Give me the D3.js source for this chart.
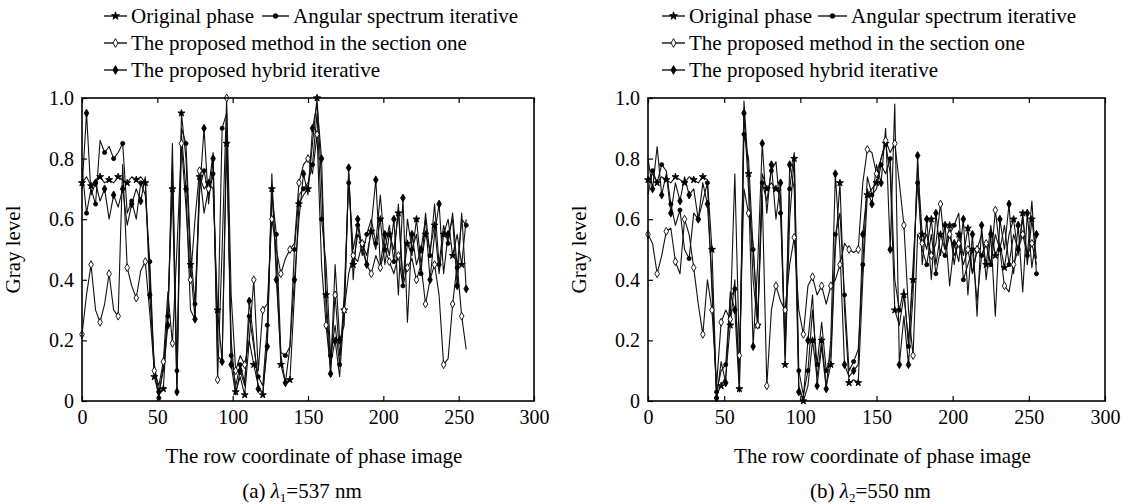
<!DOCTYPE html>
<html>
<head>
<meta charset="utf-8">
<script src="https://cdn.jsdelivr.net/npm/d3@7"></script>
<style>
  body { margin: 0; background: #fff; }
  svg { font-family: "Liberation Serif", "Times New Roman", serif; }
</style>
</head>
<body>
<svg id="chart" width="1130" height="504"></svg>
<script>
// row coordinate of the phase image (sampled every 3 rows)
const rows = [
  0, 3, 6, 9, 12, 15, 18, 21, 24, 27,
  30, 33, 36, 39, 42, 45, 48, 51, 54, 57,
  60, 63, 66, 69, 72, 75, 78, 81, 84, 87,
  90, 93, 96, 99, 102, 105, 108, 111, 114, 117,
  120, 123, 126, 129, 132, 135, 138, 141, 144, 147,
  150, 153, 156, 159, 162, 165, 168, 171, 174, 177,
  180, 183, 186, 189, 192, 195, 198, 201, 204, 207,
  210, 213, 216, 219, 222, 225, 228, 231, 234, 237,
  240, 243, 246, 249, 252, 255
];

// (a) lambda1 = 537 nm
const origA = [
  0.72, 0.74, 0.71, 0.73, 0.74, 0.72, 0.73, 0.72, 0.74, 0.73,
  0.72, 0.74, 0.73, 0.74, 0.72, 0.42, 0.08, 0.02, 0.04, 0.30,
  0.70, 0.03, 0.95, 0.80, 0.45, 0.27, 0.74, 0.70, 0.72, 0.70,
  0.30, 0.13, 0.85, 0.20, 0.03, 0.08, 0.02, 0.20, 0.12, 0.05,
  0.02, 0.20, 0.70, 0.45, 0.12, 0.06, 0.07, 0.35, 0.65, 0.68,
  0.70, 0.85, 1.00, 0.72, 0.35, 0.12, 0.20, 0.08, 0.30, 0.75,
  0.45, 0.55, 0.52, 0.48, 0.56, 0.50, 0.60, 0.45, 0.55, 0.50,
  0.62, 0.40, 0.52, 0.48, 0.60, 0.45, 0.55, 0.50, 0.58, 0.42,
  0.55, 0.60, 0.48, 0.55, 0.45, 0.60
];
const angA = [
  0.77, 0.62, 0.70, 0.65, 0.86, 0.82, 0.84, 0.80, 0.82, 0.85,
  0.62, 0.66, 0.60, 0.72, 0.68, 0.46, 0.10, 0.01, 0.12, 0.28,
  0.78, 0.10, 0.90, 0.85, 0.50, 0.32, 0.70, 0.76, 0.68, 0.75,
  0.20, 0.90, 0.95, 0.15, 0.05, 0.12, 0.06, 0.28, 0.18, 0.08,
  0.05, 0.25, 0.69, 0.55, 0.16, 0.15, 0.18, 0.50, 0.68, 0.70,
  0.72, 0.78, 0.95, 0.60, 0.45, 0.15, 0.25, 0.12, 0.35, 0.72,
  0.50, 0.58, 0.48, 0.55, 0.60, 0.52, 0.68, 0.50, 0.58, 0.46,
  0.65, 0.38, 0.60, 0.50, 0.55, 0.42, 0.62, 0.48, 0.65, 0.45,
  0.58, 0.52, 0.62, 0.44, 0.60, 0.58
];
const secA = [
  0.22, 0.35, 0.45, 0.30, 0.26, 0.32, 0.42, 0.30, 0.28, 0.78,
  0.44, 0.38, 0.34, 0.43, 0.46, 0.29, 0.10, 0.05, 0.13, 0.36,
  0.19, 0.50, 0.85, 0.64, 0.40, 0.60, 0.76, 0.62, 0.70, 0.82,
  0.07, 0.50, 1.00, 0.35, 0.10, 0.15, 0.12, 0.20, 0.40, 0.10,
  0.30, 0.32, 0.60, 0.50, 0.42, 0.47, 0.50, 0.52, 0.72, 0.78,
  0.80, 0.75, 0.88, 0.45, 0.25, 0.10, 0.35, 0.15, 0.30, 0.42,
  0.48, 0.46, 0.52, 0.45, 0.42, 0.48, 0.44, 0.50, 0.46, 0.42,
  0.48, 0.38, 0.44, 0.47, 0.40, 0.45, 0.32, 0.40, 0.45, 0.35,
  0.12, 0.14, 0.32, 0.45, 0.28, 0.17
];
const hybA = [
  0.70, 0.95, 0.68, 0.72, 0.66, 0.70, 0.60, 0.68, 0.64, 0.70,
  0.58, 0.65, 0.70, 0.66, 0.74, 0.35, 0.12, 0.03, 0.10, 0.25,
  0.85, 0.03, 0.88, 0.70, 0.30, 0.27, 0.68, 0.90, 0.65, 0.80,
  0.15, 0.13, 0.90, 0.12, 0.02, 0.10, 0.05, 0.33, 0.20, 0.04,
  0.03, 0.18, 0.75, 0.40, 0.15, 0.06, 0.18, 0.40, 0.60, 0.75,
  0.68, 0.90, 0.98, 0.80, 0.30, 0.09, 0.45, 0.20, 0.25, 0.77,
  0.40, 0.60, 0.50, 0.45, 0.58, 0.73, 0.45, 0.55, 0.48, 0.60,
  0.35, 0.67, 0.26, 0.55, 0.45, 0.50, 0.60, 0.40, 0.55, 0.65,
  0.42, 0.55, 0.60, 0.38, 0.62, 0.37
];

// (b) lambda2 = 550 nm
const origB = [
  0.73, 0.75, 0.72, 0.74, 0.73, 0.72, 0.74, 0.73, 0.72, 0.74,
  0.73, 0.72, 0.74, 0.73, 0.50, 0.02, 0.05, 0.08, 0.25, 0.40,
  0.04, 0.99, 0.75, 0.40, 0.25, 0.75, 0.70, 0.72, 0.70, 0.68,
  0.12, 0.60, 0.80, 0.05, 0.00, 0.05, 0.20, 0.08, 0.20, 0.05,
  0.12, 0.50, 0.72, 0.30, 0.06, 0.07, 0.06, 0.40, 0.68, 0.70,
  0.72, 0.80, 0.85, 0.75, 0.30, 0.25, 0.35, 0.20, 0.40, 0.78,
  0.55, 0.50, 0.60, 0.45, 0.55, 0.50, 0.58, 0.45, 0.55, 0.48,
  0.57, 0.42, 0.50, 0.55, 0.45, 0.58, 0.48, 0.52, 0.44, 0.55,
  0.60, 0.48, 0.62, 0.45, 0.60, 0.47
];
const angB = [
  0.68, 0.76, 0.72, 0.78, 0.76, 0.65, 0.58, 0.63, 0.50, 0.47,
  0.62, 0.60, 0.66, 0.72, 0.36, 0.03, 0.10, 0.12, 0.34, 0.37,
  0.08, 0.88, 0.80, 0.50, 0.27, 0.72, 0.66, 0.76, 0.79, 0.62,
  0.19, 0.70, 0.82, 0.10, 0.02, 0.10, 0.30, 0.12, 0.26, 0.10,
  0.15, 0.55, 0.62, 0.35, 0.10, 0.13, 0.17, 0.45, 0.74, 0.68,
  0.70, 0.78, 0.75, 0.80, 0.40, 0.30, 0.37, 0.18, 0.45, 0.72,
  0.50, 0.45, 0.55, 0.42, 0.50, 0.48, 0.55, 0.58, 0.62, 0.40,
  0.45, 0.50, 0.33, 0.48, 0.52, 0.45, 0.55, 0.50, 0.58, 0.45,
  0.55, 0.50, 0.60, 0.48, 0.66, 0.42
];
const secB = [
  0.55, 0.52, 0.42, 0.48, 0.56, 0.57, 0.46, 0.42, 0.60, 0.55,
  0.44, 0.32, 0.22, 0.40, 0.30, 0.05, 0.26, 0.30, 0.27, 0.75,
  0.15, 0.70, 0.62, 0.52, 0.25, 0.68, 0.05, 0.30, 0.38, 0.33,
  0.30, 0.45, 0.54, 0.30, 0.22, 0.38, 0.41, 0.35, 0.38, 0.32,
  0.38, 0.40, 0.45, 0.52, 0.50, 0.49, 0.50, 0.72, 0.83, 0.82,
  0.75, 0.80, 0.86, 0.82, 0.85, 0.72, 0.58, 0.30, 0.15, 0.55,
  0.52, 0.55, 0.48, 0.52, 0.65, 0.50, 0.55, 0.48, 0.52, 0.45,
  0.50, 0.42, 0.50, 0.48, 0.52, 0.45, 0.63, 0.50, 0.38, 0.36,
  0.45, 0.50, 0.55, 0.48, 0.52, 0.45
];
const hybB = [
  0.80, 0.70, 0.84, 0.68, 0.75, 0.62, 0.72, 0.66, 0.74, 0.68,
  0.70, 0.60, 0.72, 0.65, 0.40, 0.01, 0.13, 0.06, 0.36, 0.30,
  0.03, 0.95, 0.70, 0.18, 0.45, 0.85, 0.62, 0.78, 0.60, 0.72,
  0.15, 0.78, 0.70, 0.03, 0.01, 0.20, 0.35, 0.05, 0.18, 0.04,
  0.20, 0.75, 0.50, 0.12, 0.08, 0.10, 0.12, 0.55, 0.70, 0.65,
  0.78, 0.72, 0.90, 0.50, 0.98, 0.12, 0.28, 0.12, 0.35, 0.81,
  0.45, 0.60, 0.40, 0.62, 0.48, 0.58, 0.38, 0.52, 0.46, 0.60,
  0.35, 0.55, 0.28, 0.58, 0.40, 0.55, 0.28, 0.60, 0.50, 0.65,
  0.42, 0.58, 0.36, 0.62, 0.44, 0.55
];

const seriesNames = [
  'Original phase',
  'Angular spectrum iterative',
  'The proposed method in the section one',
  'The proposed hybrid iterative'
];
const xTicks = [0, 50, 100, 150, 200, 250, 300];
const yTicks = [0, 0.2, 0.4, 0.6, 0.8, 1.0];
const yTickLabels = ['0', '0.2', '0.4', '0.6', '0.8', '1.0'];

const svg = d3.select('#chart');

// marker style for each series
const markers = [
  { type: d3.symbolStar, size: 15, fill: '#000' },
  { type: d3.symbolCircle, size: 13, fill: '#000' },
  { type: d3.symbolDiamond, size: 18, fill: '#fff' },
  { type: d3.symbolDiamond, size: 18, fill: '#000' }
];

function drawPanel(p) {
  const x = d3.scaleLinear().domain([0, 300]).range([p.left, p.right]);
  const y = d3.scaleLinear().domain([0, 1]).range([p.bottom, p.top]);
  const g = svg.append('g');

  // axes with inward ticks
  const xa = g.append('g')
    .attr('transform', `translate(0,${p.bottom})`)
    .call(d3.axisBottom(x).tickValues(xTicks).tickSize(-5).tickSizeOuter(0).tickPadding(9));
  const xt = g.append('g')
    .attr('transform', `translate(0,${p.top})`)
    .call(d3.axisTop(x).tickValues(xTicks).tickSize(-5).tickSizeOuter(0).tickFormat(''));
  const ya = g.append('g')
    .attr('transform', `translate(${p.left},0)`)
    .call(d3.axisLeft(y).tickValues(yTicks).tickSize(-5).tickSizeOuter(0).tickPadding(8)
      .tickFormat((d, i) => yTickLabels[i]));
  [xa, xt, ya].forEach(a => {
    a.select('.domain').remove();
    a.selectAll('line').attr('stroke', '#000').attr('stroke-width', 1.2);
    a.selectAll('text').attr('font-size', 20).attr('fill', '#000')
      .attr('font-family', '"Liberation Serif", serif');
  });

  // series lines
  const line = d3.line()
    .x((d, i) => x(rows[i]))
    .y(d => y(d));
  p.series.forEach(s => {
    g.append('path')
      .datum(s)
      .attr('d', line)
      .attr('fill', 'none')
      .attr('stroke', '#111')
      .attr('stroke-width', 1.1)
      .attr('stroke-linejoin', 'round');
  });
  p.series.forEach((s, k) => {
    const m = markers[k];
    g.selectAll(null)
      .data(s.map((v, i) => [rows[i], v]).filter((d, i) => (i + k) % 2 === 0))
      .enter().append('path')
      .attr('d', d3.symbol().type(m.type).size(m.size))
      .attr('transform', d => `translate(${x(d[0])},${y(d[1])})`)
      .attr('fill', m.fill)
      .attr('stroke', '#000')
      .attr('stroke-width', 0.9);
  });

  // frame
  g.append('rect')
    .attr('x', p.left).attr('y', p.top)
    .attr('width', p.right - p.left).attr('height', p.bottom - p.top)
    .attr('fill', 'none').attr('stroke', '#000').attr('stroke-width', 1.6);

  // axis titles
  g.append('text')
    .attr('x', p.left + (p.right - p.left) / 2 + 6)
    .attr('y', 463)
    .attr('text-anchor', 'middle')
    .attr('font-size', 21)
    .text('The row coordinate of phase image');
  g.append('text')
    .attr('transform', `translate(${p.left - 62},${(p.top + p.bottom) / 2}) rotate(-90)`)
    .attr('text-anchor', 'middle')
    .attr('font-size', 21)
    .text('Gray level');

  // caption
  const cap = g.append('text')
    .attr('x', p.left + (p.right - p.left) / 2 - 6)
    .attr('y', 498)
    .attr('text-anchor', 'middle')
    .attr('font-size', 21);
  cap.append('tspan').text(p.capLetter + ' ');
  cap.append('tspan').attr('font-style', 'italic').text('λ');
  cap.append('tspan').attr('font-size', 13).attr('dy', 4).text(p.capSub);
  cap.append('tspan').attr('dy', -4).text(p.capRest);

  // legend: each entry is a short line with its marker, then the label
  p.legend.forEach(e => {
    const m = markers[e.k];
    const x2 = e.tx - 4;
    g.append('line')
      .attr('x1', e.x).attr('x2', x2)
      .attr('y1', e.y).attr('y2', e.y)
      .attr('stroke', '#000').attr('stroke-width', 1.3);
    g.append('path')
      .attr('d', d3.symbol().type(m.type).size(m.size + 4)())
      .attr('transform', `translate(${(e.x + x2) / 2},${e.y})`)
      .attr('fill', m.fill).attr('stroke', '#000').attr('stroke-width', 0.9);
    g.append('text')
      .attr('x', e.tx).attr('y', e.y)
      .attr('dy', '0.35em')
      .attr('font-size', 21)
      .text(seriesNames[e.k]);
  });
}

drawPanel({
  left: 82, right: 534, top: 98, bottom: 401,
  series: [origA, angA, secA, hybA],
  capLetter: '(a)', capSub: '1', capRest: '=537 nm',
  legend: [
    { k: 0, x: 104, tx: 131, y: 16 },
    { k: 1, x: 262, tx: 293, y: 16 },
    { k: 2, x: 104, tx: 131, y: 43 },
    { k: 3, x: 104, tx: 131, y: 70 }
  ]
});
drawPanel({
  left: 648, right: 1105, top: 98, bottom: 401,
  series: [origB, angB, secB, hybB],
  capLetter: '(b)', capSub: '2', capRest: '=550 nm',
  legend: [
    { k: 0, x: 662, tx: 689, y: 16 },
    { k: 1, x: 818, tx: 851, y: 16 },
    { k: 2, x: 662, tx: 689, y: 43 },
    { k: 3, x: 662, tx: 689, y: 70 }
  ]
});
</script>
</body>
</html>
